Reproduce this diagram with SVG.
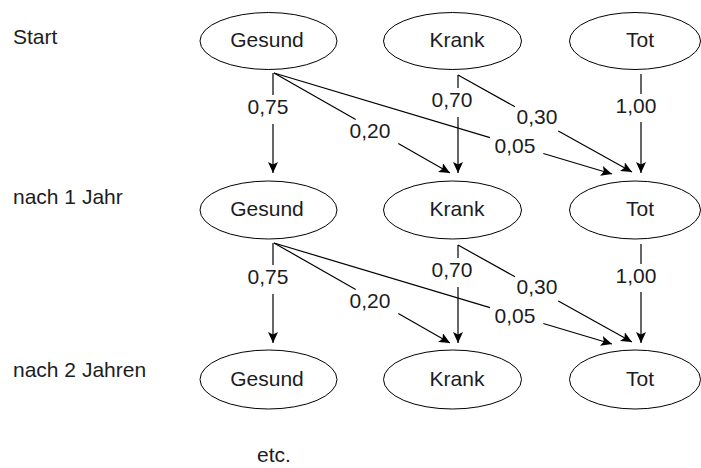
<svg xmlns="http://www.w3.org/2000/svg" width="701" height="468" viewBox="0 0 701 468">
<style>
  .node ellipse { fill: #fff; stroke: #000; stroke-width: 1; }
  text { font-family: "Liberation Sans", Arial, sans-serif; font-size: 21px; fill: #1c1c24; }
  .c { text-anchor: middle; }
  .edge { fill: none; stroke: #000; stroke-width: 1.2; marker-end: url(#arr); }
</style>
<defs>
  <marker id="arr" markerUnits="userSpaceOnUse" markerWidth="12" markerHeight="10" refX="11" refY="5" orient="auto">
    <path d="M0,0 L11,5 L0,10 L2.5,5 z" fill="#000"/>
  </marker>
</defs>
<rect width="701" height="468" fill="#fff"/>

<g id="row-labels">
  <text x="13" y="44">Start</text>
  <text x="13" y="204">nach 1 Jahr</text>
  <text x="13" y="377">nach 2 Jahren</text>
  <text x="257" y="462">etc.</text>
</g>

<g id="connectors">
  <g id="step1">
    <path class="edge" d="M273,73 L273,95 M273,124 L273,173"/>
    <path class="edge" d="M274,73 L355.7,119.4 M398.3,143.6 L450,173"/>
    <path class="edge" d="M274,73 L490,137.6 M543.3,153.5 L612,174"/>
    <path class="edge" d="M458,75 L458,88 M458,117 L458,173"/>
    <path class="edge" d="M458,75 L515,106.8 M558.3,130.9 L632,172"/>
    <path class="edge" d="M641,74 L641,94 M641,122 L641,173"/>
    <text class="c" x="268" y="114">0,75</text>
    <text class="c" x="370" y="138">0,20</text>
    <text class="c" x="515" y="153">0,05</text>
    <text class="c" x="452" y="107">0,70</text>
    <text class="c" x="537" y="124">0,30</text>
    <text class="c" x="636" y="113">1,00</text>
  </g>
  <g id="step2" transform="translate(0,170)">
    <path class="edge" d="M273,73 L273,95 M273,124 L273,173"/>
    <path class="edge" d="M274,73 L355.7,119.4 M398.3,143.6 L450,173"/>
    <path class="edge" d="M274,73 L490,137.6 M543.3,153.5 L612,174"/>
    <path class="edge" d="M458,75 L458,88 M458,117 L458,173"/>
    <path class="edge" d="M458,75 L515,106.8 M558.3,130.9 L632,172"/>
    <path class="edge" d="M641,74 L641,94 M641,122 L641,173"/>
    <text class="c" x="268" y="114">0,75</text>
    <text class="c" x="370" y="138">0,20</text>
    <text class="c" x="515" y="153">0,05</text>
    <text class="c" x="452" y="107">0,70</text>
    <text class="c" x="537" y="124">0,30</text>
    <text class="c" x="636" y="113">1,00</text>
  </g>
</g>

<g id="gesund0" class="node"><ellipse cx="268.5" cy="41" rx="68.5" ry="28.5"/><text class="c" x="267" y="47">Gesund</text></g>
<g id="krank0" class="node"><ellipse cx="452.5" cy="41" rx="69" ry="28.5"/><text class="c" x="457" y="47">Krank</text></g>
<g id="tot0" class="node"><ellipse cx="635" cy="41" rx="65.5" ry="28.5"/><text class="c" x="640" y="47">Tot</text></g>

<g id="gesund1" class="node"><ellipse cx="268.5" cy="210" rx="68.5" ry="29"/><text class="c" x="267" y="216">Gesund</text></g>
<g id="krank1" class="node"><ellipse cx="452.5" cy="210" rx="69" ry="29"/><text class="c" x="457" y="216">Krank</text></g>
<g id="tot1" class="node"><ellipse cx="635" cy="210" rx="65.5" ry="29"/><text class="c" x="640" y="216">Tot</text></g>

<g id="gesund2" class="node"><ellipse cx="268.5" cy="379.5" rx="68.5" ry="29.5"/><text class="c" x="267" y="386">Gesund</text></g>
<g id="krank2" class="node"><ellipse cx="452.5" cy="379.5" rx="69" ry="29.5"/><text class="c" x="457" y="386">Krank</text></g>
<g id="tot2" class="node"><ellipse cx="635" cy="379.5" rx="65.5" ry="29.5"/><text class="c" x="640" y="386">Tot</text></g>
</svg>
